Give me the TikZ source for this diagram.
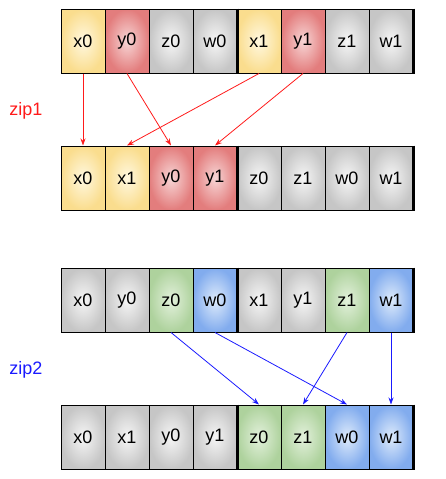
\documentclass[tikz,border=0pt]{standalone}
\usepackage{fontspec}
\setmainfont{Liberation Sans}
\usetikzlibrary{arrows.meta}

\definecolor{yelin}{HTML}{FFF8E0}
\definecolor{yelout}{HTML}{FADD8E}
\definecolor{redin}{HTML}{F7D6D6}
\definecolor{redout}{HTML}{E37D7D}
\definecolor{grayin}{HTML}{F6F6F6}
\definecolor{grayout}{HTML}{C6C6C6}
\definecolor{grnin}{HTML}{E3F1DC}
\definecolor{grnout}{HTML}{AED29D}
\definecolor{bluin}{HTML}{DEEBFB}
\definecolor{bluout}{HTML}{82ACEE}
\definecolor{zipred}{HTML}{FF1A1A}
\definecolor{zipblue}{HTML}{1A1AFF}

\tikzset{
  cell/.style={draw=black, line width=1pt, minimum width=44pt, minimum height=64pt,
    inner sep=0pt, font=\fontsize{18}{20}\selectfont},
  ycell/.style={cell, inner color=yelin, outer color=yelout},
  rcell/.style={cell, inner color=redin, outer color=redout},
  gcell/.style={cell, inner color=grayin, outer color=grayout},
  zcell/.style={cell, inner color=grnin, outer color=grnout},
  wcell/.style={cell, inner color=bluin, outer color=bluout},
  bar/.style={line width=3.5pt, black, xshift=1pt},
  redarr/.style={-{Stealth[length=7pt,width=5pt]}, zipred, line width=0.8pt},
  bluarr/.style={-{Stealth[length=7pt,width=5pt]}, zipblue, line width=0.8pt}
}

\begin{document}
\begin{tikzpicture}[x=1pt, y=-1pt]
  \useasboundingbox (0,0) rectangle (445,479);

  % zip1, before
  \node[ycell] (a1) at (83,41) {x0};
  \node[rcell] (a2) at (127,41) {y0};
  \node[gcell] (a3) at (171,41) {z0};
  \node[gcell] (a4) at (215,41) {w0};
  \node[ycell] (a5) at (259,41) {x1};
  \node[rcell] (a6) at (303,41) {y1};
  \node[gcell] (a7) at (347,41) {z1};
  \node[gcell] (a8) at (391,41) {w1};
  \draw[bar] (a4.north east) -- (a4.south east);
  \draw[bar] (a8.north east) -- (a8.south east);

  % zip1, after
  \node[ycell] (b1) at (83,178) {x0};
  \node[ycell] (b2) at (127,178) {x1};
  \node[rcell] (b3) at (171,178) {y0};
  \node[rcell] (b4) at (215,178) {y1};
  \node[gcell] (b5) at (259,178) {z0};
  \node[gcell] (b6) at (303,178) {z1};
  \node[gcell] (b7) at (347,178) {w0};
  \node[gcell] (b8) at (391,178) {w1};
  \draw[bar] (b4.north east) -- (b4.south east);
  \draw[bar] (b8.north east) -- (b8.south east);

  \node[zipred, font=\fontsize{18}{20}\selectfont] (zipone) at (26,111) {zip1};
  \draw[redarr] (a1.south) -- (b1.north);
  \draw[redarr] (a2.south) -- (b3.north);
  \draw[redarr] (a5.south) -- (b2.north);
  \draw[redarr] (a6.south) -- (b4.north);

  % zip2, before
  \node[gcell] (c1) at (83,300) {x0};
  \node[gcell] (c2) at (127,300) {y0};
  \node[zcell] (c3) at (171,300) {z0};
  \node[wcell] (c4) at (215,300) {w0};
  \node[gcell] (c5) at (259,300) {x1};
  \node[gcell] (c6) at (303,300) {y1};
  \node[zcell] (c7) at (347,300) {z1};
  \node[wcell] (c8) at (391,300) {w1};
  \draw[bar] (c4.north east) -- (c4.south east);
  \draw[bar] (c8.north east) -- (c8.south east);

  % zip2, after
  \node[gcell] (d1) at (83,437) {x0};
  \node[gcell] (d2) at (127,437) {x1};
  \node[gcell] (d3) at (171,437) {y0};
  \node[gcell] (d4) at (215,437) {y1};
  \node[zcell] (d5) at (259,437) {z0};
  \node[zcell] (d6) at (303,437) {z1};
  \node[wcell] (d7) at (347,437) {w0};
  \node[wcell] (d8) at (391,437) {w1};
  \draw[bar] (d4.north east) -- (d4.south east);
  \draw[bar] (d8.north east) -- (d8.south east);

  \node[zipblue, font=\fontsize{18}{20}\selectfont] (ziptwo) at (26,370) {zip2};
  \draw[bluarr] (c3.south) -- (d5.north);
  \draw[bluarr] (c4.south) -- (d7.north);
  \draw[bluarr] (c7.south) -- (d6.north);
  \draw[bluarr] (c8.south) -- (d8.north);
\end{tikzpicture}
\end{document}
